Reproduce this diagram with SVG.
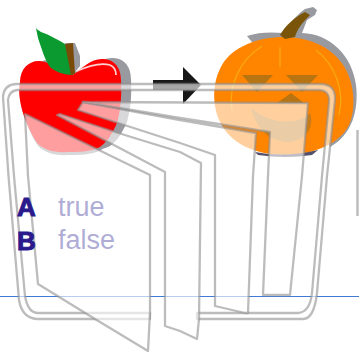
<svg xmlns="http://www.w3.org/2000/svg" width="359" height="352" viewBox="0 0 359 352">
<style>
.page{fill:#fff;fill-opacity:.62;stroke:#8f8f8f;stroke-opacity:.6;stroke-width:2.3;stroke-linejoin:round}
.sans{font-family:"Liberation Sans",Arial,sans-serif}
.carve{fill:none;stroke:#f7a90f;stroke-width:1.3}
.eye{fill:#b87410}
.letter{font-size:26px;font-weight:bold;fill:#2a1a8c;stroke:#2a1a8c;stroke-width:1}
.word{font-size:27px;fill:#2f2593}
</style>
<defs>
<path id="appleShape" d="M20,82C20,68 30,60 40,61C52,62 62,72 73,75C82,68 92,58 103,59C118,60 121,72 121,80C122,100 120,112 117,123C112,134 108,141 100,147C90,152 78,152 67,152C55,153 44,150 37,143C30,132 26,122 23,113C20,103 18,92 20,82Z"/>
</defs>
<rect width="359" height="352" fill="#fff"/>
<g id="apple">
<use href="#appleShape" x="10" y="-1" fill="#999aa0"/>
<use href="#appleShape" x="1" y="3" fill="#999aa0"/>
<path d="M65,43L75,43L80,56L80,66L75,72Z" fill="#999aa0"/>
<use href="#appleShape" fill="#f00"/>
<path d="M35,23C36,30 37,29 41,32C50,35 58,40 65,44L72,60L73,75C65,75 55,72 50,67C45,60 42,50 38,38Z" fill="#0a9a30"/>
<path d="M65,44L73,43L75,74L71,75Z" fill="#7a4a08"/>
<path d="M77,71C88,66 100,62 110,65C115,67 116,71 116,75" fill="none" stroke="#ffd0d0" stroke-width="1.8"/>
</g>
<g id="pumpkin">
<path d="M305,9L313,7L317,10L315,15L307,20L302,33C330,34 352,55 356,85C359,110 352,135 330,147L300,100L247,36C258,32 272,32 284,33C290,22 298,14 305,9Z" fill="#999aa0"/>
<path d="M284,37C310,37 334,48 345,68C355,85 356,110 349,125C340,143 315,155 284,155C255,155 230,143 220,122C212,105 212,82 222,65C232,47 258,37 284,37Z" fill="#ff8400"/>
<path d="M255,152Q285,158 318,150L312,155Q285,159 258,155Z" fill="#54506a"/>
<path d="M280,35L285,39L295,37C297,30 301,24 310,15L305,12C295,17 285,26 280,35Z" fill="#7a5408"/>
<path d="M280,47V67M262,46C240,60 228,85 232,110M316,50C335,65 345,90 339,115" class="carve"/>
<path d="M251,108C258,135 275,142 290,142C305,140 315,128 310,113C300,125 270,125 251,108Z" fill="#c77c18"/>
<path class="eye" d="M242,75H273L257,92ZM286,75H318L302,92ZM277,103H304L291,93Z"/>
</g>
<g id="arrow">
<path d="M153,80H183V67L201,85L183,104V90H153Z" fill="#181818"/>
</g>
<g id="words" class="sans">
<text x="58" y="216" class="word">true</text>
<text x="58" y="249" class="word">false</text>
</g>
<path id="edge-line" d="M357.500,130V216" stroke="#bdbdbd" stroke-width="2.500" fill="none"/>
<path id="guide" d="M0,296.500H359" stroke="#3f7bd6" stroke-width="1.200" fill="none"/>
<g id="connectors">
<path class="page" d="M3,97Q4,84 17,84H320Q336,84 335,100L327,176L317,293Q314,319 303,319H197V313H298Q310,312 312,293L322,176L329,102Q330,90 318,90H17Q9,91 8,100L14,176L25,296Q28,313 38,313H150V319H37Q22,318 19,300L8.500,176Z"/>
<path class="page" d="M25,114L150,175V313L148,351L95,319L38,284L28,176Z"/>
<path class="page" d="M57,115L60,114L115,132L180,152L201,163L199,319L197,339L180,331L165,326V172Z"/>
<path class="page" d="M83,102L78,110L180,143L215,155V306L245,313H248L253,176L256,133L180,120Z"/>
<path class="page" d="M83,102L308,103L302,176L290,295H263L268,176L270,132L225,125L180,118Z"/>
</g>
<g id="letters" class="sans">
<text x="17" y="216" class="letter">A</text>
<text x="17" y="250" class="letter">B</text>
</g>
</svg>
